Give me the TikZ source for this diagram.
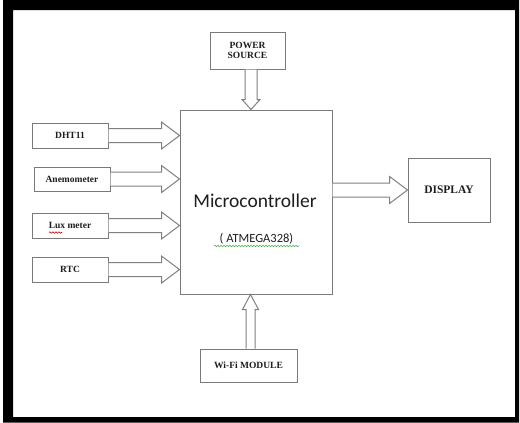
\documentclass[tikz,border=0pt]{standalone}
\usepackage{fontspec}
\setmainfont{Liberation Serif}
\newfontfamily\calfont{Carlito}
\usetikzlibrary{calc,decorations.pathmorphing}
\definecolor{boxgray}{HTML}{7A7A7A}
\definecolor{arrgray}{HTML}{808080}
\definecolor{txt}{HTML}{1E1E1E}
\tikzset{
  blk/.style={draw=boxgray, line width=1pt, fill=white, inner sep=0pt, text=txt,
    font=\fontsize{9.5}{11}\selectfont\bfseries},
  barrow/.style={draw=arrgray, line width=1pt, fill=white, line join=miter},
  squig/.style={decorate, decoration={snake, amplitude=0.7pt, segment length=3pt}, line width=0.6pt}
}
\newcommand{\blockarrow}[5]{%
  \path ($(#2)!#5!(#1)$) coordinate (ah);
  \draw[barrow] ($(#1)!#3!90:(#2)$) -- ($(ah)!#3!90:(#2)$) -- ($(ah)!#4!90:(#2)$) -- (#2)
    -- ($(ah)!#4!-90:(#2)$) -- ($(ah)!#3!-90:(#2)$) -- ($(#1)!#3!-90:(#2)$);
}
\begin{document}
\begin{tikzpicture}[x=1pt,y=-1pt]
\useasboundingbox (0,0) rectangle (520,423);
\fill[white] (0,0) rectangle (520,423);
% outer frame
\fill[black, even odd rule] (3,0) rectangle (519,422.5) (13,10) rectangle (515,417);

% boxes
\node[blk, minimum width=75pt, minimum height=37pt, align=center] (power) at (247.5,50.5) {POWER\\[-1pt]SOURCE};
\node[blk, minimum width=152pt, minimum height=184pt] (mcu) at (256,202) {};
\node[blk, minimum width=76pt, minimum height=25pt] (dht) at (70,135.5) {DHT11};
\node[blk, minimum width=76pt, minimum height=24pt] (anem) at (72,179) {Anemometer};
\node[blk, minimum width=76pt, minimum height=25pt] (lux) at (70,225.5) {Lux meter};
\node[blk, minimum width=76pt, minimum height=25pt] (rtc) at (70,269.5) {RTC};
\node[blk, minimum width=82pt, minimum height=64pt, font=\fontsize{11.5}{13}\selectfont\bfseries] (disp) at (449,190) {DISPLAY};
\node[blk, minimum width=97pt, minimum height=33pt] (wifi) at (248.5,365.5) {Wi-Fi MODULE};

% texts inside microcontroller
\node[anchor=base, inner sep=0pt, text=txt, font=\calfont\fontsize{19.5}{22}\selectfont] (mtext) at (255,207) {Microcontroller};
\node[anchor=base, inner sep=0pt, text=txt, font=\calfont\fontsize{12.5}{14}\selectfont] (atm) at (256.5,242) {( ATMEGA328)};
\draw[squig, draw=green!55!black!70] (214,246) -- (299,246);
\draw[squig, draw=red!80!black] (49,232.5) -- (62,232.5);

% connector end points
\coordinate (p0) at ([xshift=3.5pt]power.south);
\coordinate (p1) at (p0 |- mcu.north);
\coordinate (w0) at ([xshift=2pt]wifi.north);
\coordinate (w1) at (w0 |- mcu.south);
\coordinate (d1) at (mcu.west |- dht.east);
\coordinate (a1) at (mcu.west |- anem.east);
\coordinate (l1) at (mcu.west |- lux.east);
\coordinate (r1) at (mcu.west |- rtc.east);
\coordinate (m0) at (mcu.east |- disp.west);

% block arrows
\blockarrow{dht.east}{d1}{7pt}{13.5pt}{18pt}
\blockarrow{anem.east}{a1}{7pt}{13.5pt}{18pt}
\blockarrow{lux.east}{l1}{7pt}{13.5pt}{18pt}
\blockarrow{rtc.east}{r1}{7pt}{13.5pt}{18pt}
\blockarrow{m0}{disp.west}{7pt}{13.5pt}{18pt}
\blockarrow{p0}{p1}{6pt}{9pt}{10pt}
\blockarrow{w0}{w1}{4.5pt}{8pt}{15pt}
\end{tikzpicture}
\end{document}
